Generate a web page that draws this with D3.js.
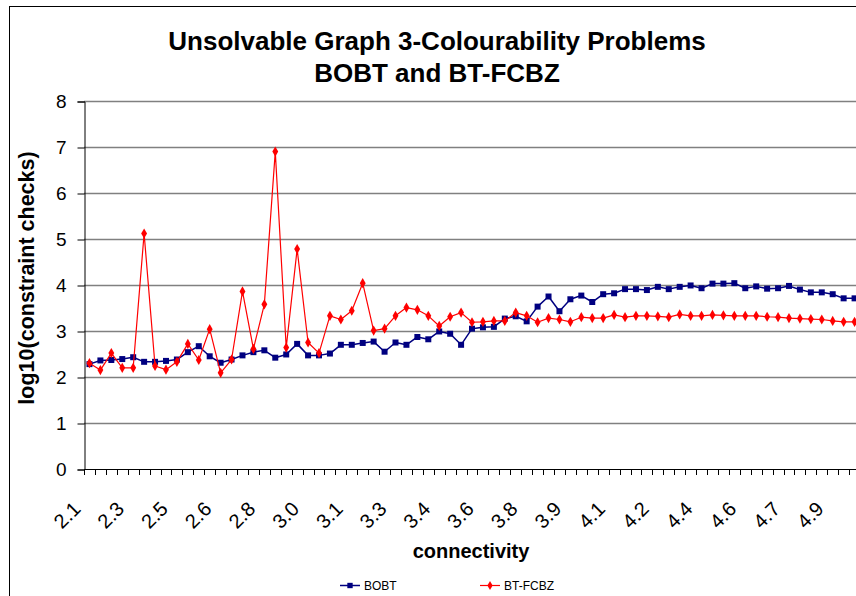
<!DOCTYPE html>
<html>
<head>
<meta charset="utf-8">
<script src="https://cdn.jsdelivr.net/npm/d3@7/dist/d3.min.js"></script>
<style>
  html, body { margin: 0; padding: 0; background: #fff; overflow: hidden; }
  svg { display: block; font-family: "Liberation Sans", Arial, sans-serif; }
</style>
</head>
<body>
<svg id="chart" width="856" height="596"></svg>
<script>
// Connectivity of each problem set (x categories)
const connectivity = [
  2.146, 2.186, 2.227, 2.267, 2.308, 2.348, 2.388, 2.429, 2.469, 2.510,
  2.550, 2.590, 2.631, 2.671, 2.712, 2.752, 2.792, 2.833, 2.873, 2.914,
  2.954, 2.994, 3.035, 3.075, 3.116, 3.156, 3.196, 3.237, 3.277, 3.318,
  3.358, 3.398, 3.439, 3.479, 3.520, 3.560, 3.600, 3.641, 3.681, 3.722,
  3.762, 3.802, 3.843, 3.883, 3.924, 3.964, 4.004, 4.045, 4.085, 4.126,
  4.166, 4.206, 4.247, 4.287, 4.328, 4.368, 4.408, 4.449, 4.489, 4.530,
  4.570, 4.610, 4.651, 4.691, 4.732, 4.772, 4.812, 4.853, 4.893, 4.934,
  4.974
];

// log10 of constraint checks, BOBT
const bobt = [
  2.28, 2.36, 2.37, 2.39, 2.43, 2.33, 2.33, 2.35, 2.38, 2.54,
  2.67, 2.45, 2.31, 2.38, 2.47, 2.54, 2.58, 2.42, 2.49, 2.72,
  2.47, 2.47, 2.51, 2.70, 2.70, 2.74, 2.77, 2.55, 2.75, 2.70,
  2.87, 2.82, 2.99, 2.94, 2.70, 3.05, 3.08, 3.09, 3.27, 3.32,
  3.21, 3.53, 3.75, 3.43, 3.69, 3.77, 3.63, 3.80, 3.82, 3.91,
  3.91, 3.89, 3.96, 3.91, 3.96, 3.99, 3.93, 4.03, 4.03, 4.04,
  3.93, 3.97, 3.92, 3.93, 3.98, 3.90, 3.84, 3.84, 3.80, 3.71,
  3.71
];

// log10 of constraint checks, BT-FCBZ
const btfcbz = [
  2.30, 2.15, 2.52, 2.20, 2.20, 5.12, 2.24, 2.16, 2.33, 2.72,
  2.37, 3.04, 2.09, 2.38, 3.86, 2.61, 3.58, 6.90, 2.64, 4.78,
  2.75, 2.52, 3.33, 3.25, 3.44, 4.04, 3.01, 3.05, 3.33, 3.51,
  3.46, 3.33, 3.11, 3.31, 3.40, 3.19, 3.20, 3.22, 3.22, 3.40,
  3.33, 3.19, 3.28, 3.25, 3.20, 3.30, 3.28, 3.28, 3.35, 3.30,
  3.33, 3.33, 3.32, 3.30, 3.36, 3.33, 3.33, 3.35, 3.34, 3.33,
  3.33, 3.33, 3.31, 3.30, 3.28, 3.27, 3.26, 3.25, 3.22, 3.20,
  3.20
];

const yTicks = [0, 1, 2, 3, 4, 5, 6, 7, 8];
const labelEvery = 4;

const seriesList = [
  { name: "BOBT", values: bobt, color: "#000080", symbol: d3.symbolSquare, size: 36, width: 1.5 },
  { name: "BT-FCBZ", values: btfcbz, color: "#FF0000", symbol: d3.symbolDiamond, size: 30, width: 1.2 }
];

const svg = d3.select("#chart");

// outer chart frame
svg.append("rect")
  .attr("x", 9.5).attr("y", 6.5)
  .attr("width", 1000).attr("height", 700)
  .attr("fill", "none").attr("stroke", "#000").attr("stroke-width", 1);

const plotLeft = 84, plotTop = 101, plotBottom = 469;
const step = 10.93;

const x = d3.scaleBand()
  .domain(d3.range(connectivity.length))
  .range([plotLeft, plotLeft + step * connectivity.length])
  .paddingInner(0).paddingOuter(0);

const y = d3.scaleLinear().domain([0, 8]).range([plotBottom, plotTop]);

const cx = i => x(i) + x.bandwidth() / 2;

// horizontal gridlines
svg.append("g")
  .selectAll("line")
  .data(yTicks.filter(v => v > 0))
  .join("line")
  .attr("x1", plotLeft).attr("x2", x.range()[1])
  .attr("y1", d => y(d) + 0.5).attr("y2", d => y(d) + 0.5)
  .attr("stroke", "#808080").attr("stroke-width", 1.5);

// y axis
const yAxis = svg.append("g")
  .attr("transform", `translate(${plotLeft + 0.5},0.5)`)
  .call(d3.axisLeft(y).tickValues(yTicks).tickSize(7).tickPadding(11).tickFormat(d3.format("d")));
yAxis.select(".domain").attr("stroke", "#000");
yAxis.selectAll(".tick line").attr("stroke", "#000");
yAxis.selectAll(".tick text")
  .attr("font-size", 19).attr("fill", "#000")
  .attr("font-family", "'Liberation Sans', Arial, sans-serif");

// x axis line
svg.append("line")
  .attr("x1", plotLeft).attr("x2", x.range()[1])
  .attr("y1", plotBottom + 0.5).attr("y2", plotBottom + 0.5)
  .attr("stroke", "#000");

// x tick marks at category boundaries
const bounds = x.domain().map(i => x(i)).concat([x.range()[1]]);
svg.append("g")
  .selectAll("line")
  .data(bounds)
  .join("line")
  .attr("x1", d => Math.round(d) + 0.5).attr("x2", d => Math.round(d) + 0.5)
  .attr("y1", plotBottom).attr("y2", plotBottom + 6)
  .attr("stroke", "#000");

// rotated x tick labels, centred below-left of each labelled category
const fmt1 = d3.format(".1f");
svg.append("g")
  .selectAll("text")
  .data(x.domain().filter(i => i % labelEvery === 0))
  .join("text")
  .attr("transform", i => `translate(${cx(i) - 22.5},${plotBottom + 46}) rotate(-45)`)
  .attr("text-anchor", "middle")
  .attr("dy", "0.35em")
  .attr("font-size", 20)
  .attr("fill", "#000")
  .text(i => fmt1(connectivity[i]));

// series lines and markers
seriesList.forEach(s => {
  const line = d3.line()
    .x((d, i) => cx(i))
    .y(d => y(d));
  svg.append("path")
    .datum(s.values)
    .attr("d", line)
    .attr("fill", "none")
    .attr("stroke", s.color)
    .attr("stroke-width", s.width)
    .attr("stroke-linejoin", "round");
  svg.append("g")
    .selectAll("path")
    .data(s.values)
    .join("path")
    .attr("transform", (d, i) => `translate(${cx(i)},${y(d)})`)
    .attr("d", d3.symbol().type(s.symbol).size(s.size))
    .attr("fill", s.color);
});

// title
const title = svg.append("text")
  .attr("x", 437).attr("text-anchor", "middle")
  .attr("font-size", 26).attr("font-weight", "bold").attr("fill", "#000");
title.append("tspan").attr("x", 437).attr("y", 50).text("Unsolvable Graph 3-Colourability Problems");
title.append("tspan").attr("x", 437).attr("y", 81.5).text("BOBT and BT-FCBZ");

// axis titles
svg.append("text")
  .attr("x", 471).attr("y", 558)
  .attr("text-anchor", "middle")
  .attr("font-size", 20).attr("font-weight", "bold")
  .text("connectivity");

svg.append("text")
  .attr("transform", "translate(34,278) rotate(-90)")
  .attr("text-anchor", "middle")
  .attr("font-size", 21.5).attr("font-weight", "bold")
  .text("log10(constraint checks)");

// legend
const legend = svg.append("g");
const legendPos = [340, 480];
seriesList.forEach((s, k) => {
  const lx = legendPos[k], ly = 585;
  legend.append("line")
    .attr("x1", lx).attr("x2", lx + 20)
    .attr("y1", ly + 0.5).attr("y2", ly + 0.5)
    .attr("stroke", s.color).attr("stroke-width", s.width);
  legend.append("path")
    .attr("transform", `translate(${lx + 10},${ly + 0.5})`)
    .attr("d", d3.symbol().type(s.symbol).size(s.size * 0.8))
    .attr("fill", s.color);
  legend.append("text")
    .attr("x", lx + 24).attr("y", ly + 4.5)
    .attr("font-size", 12)
    .text(s.name);
});
</script>
</body>
</html>
